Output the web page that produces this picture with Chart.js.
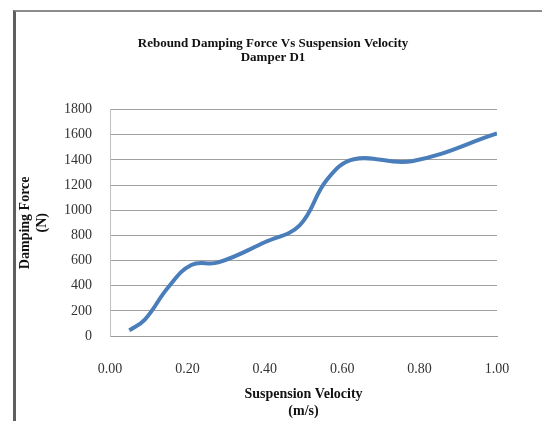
<!DOCTYPE html>
<html>
<head>
<meta charset="utf-8">
<script src="https://cdn.jsdelivr.net/npm/chart.js@4/dist/chart.umd.min.js"></script>
<style>
  html, body { margin: 0; padding: 0; background: #fff; }
  #wrap { position: relative; width: 542px; height: 421px; }
  #frame {
    position: absolute; left: 13px; top: 10px; width: 529px; height: 411px;
    border-left: 3px solid #5f5f5f; border-top: 2px solid #8c8c8c;
    box-sizing: border-box; pointer-events: none;
  }
</style>
</head>
<body>
<div id="wrap">
  <canvas id="myChart" width="542" height="421"></canvas>
  <div id="frame"></div>
</div>
<script>
// suspension velocity (m/s) vs rebound damping force (N)
const velocity = [0.05, 0.09, 0.15, 0.21, 0.28, 0.40, 0.49, 0.56, 0.63, 0.78, 1.00];
const force = [45, 130, 385, 565, 585, 745, 880, 1240, 1405, 1390, 1610];

const titleLines = ["Rebound Damping Force Vs Suspension Velocity", "Damper D1"];
const xTitle = ["Suspension Velocity", "(m/s)"];
const yTitle = ["Damping Force", "(N)"];

const points = [];
for (let i = 0; i < velocity.length; i++) {
  points.push({ x: velocity[i], y: force[i] });
}

const serif = "'Liberation Serif', 'DejaVu Serif', serif";

new Chart(document.getElementById("myChart").getContext("2d"), {
  type: "line",
  data: {
    datasets: [
      {
        data: points,
        xAxisID: "x",
        yAxisID: "y",
        borderColor: "#4a7ebb",
        borderWidth: 4,
        pointRadius: 0,
        tension: 0.4,
        fill: false
      }
    ]
  },
  options: {
    responsive: false,
    animation: false,
    layout: { padding: { left: 14, right: 10, top: 0, bottom: 0 } },
    plugins: {
      legend: { display: false },
      tooltip: { enabled: false },
      title: {
        display: true,
        text: titleLines,
        color: "#111",
        font: { family: serif, size: 13, weight: "bold", lineHeight: 1.1 },
        padding: { top: 36, bottom: 45 }
      }
    },
    scales: {
      x: {
        type: "linear",
        min: 0,
        max: 1,
        afterFit: s => { s.height = 85; },
        ticks: {
          stepSize: 0.2,
          padding: 25,
          color: "#333",
          font: { family: serif, size: 14 },
          callback: v => v.toFixed(2)
        },
        grid: { display: false, drawTicks: false },
        border: { display: true, color: "#9a9a9a", width: 1 },
        title: {
          display: true,
          text: xTitle,
          color: "#111",
          font: { family: serif, size: 14, weight: "bold", lineHeight: 1.2 },
          padding: { top: 0, bottom: 1 }
        }
      },
      y: {
        position: "left",
        min: 0,
        max: 1800,
        afterFit: s => { s.width = 96; },
        ticks: {
          stepSize: 200,
          padding: 18,
          color: "#333",
          font: { family: serif, size: 14 },
          callback: v => String(v)
        },
        grid: { color: "#a0a0a0", lineWidth: 1, drawTicks: false },
        border: { display: true, color: "#c0c0c0", width: 1 },
        title: {
          display: true,
          text: yTitle,
          color: "#111",
          font: { family: serif, size: 14, weight: "bold", lineHeight: 1.2 },
          padding: { top: 3, bottom: 0 }
        }
      },
      // empty right-hand spacer so the title centres on the whole frame
      spacer: {
        axis: "y",
        position: "right",
        min: 0,
        max: 1800,
        afterFit: s => { s.width = 35; },
        ticks: { display: false },
        grid: { display: false, drawTicks: false },
        border: { display: false }
      }
    }
  }
});
</script>
</body>
</html>
